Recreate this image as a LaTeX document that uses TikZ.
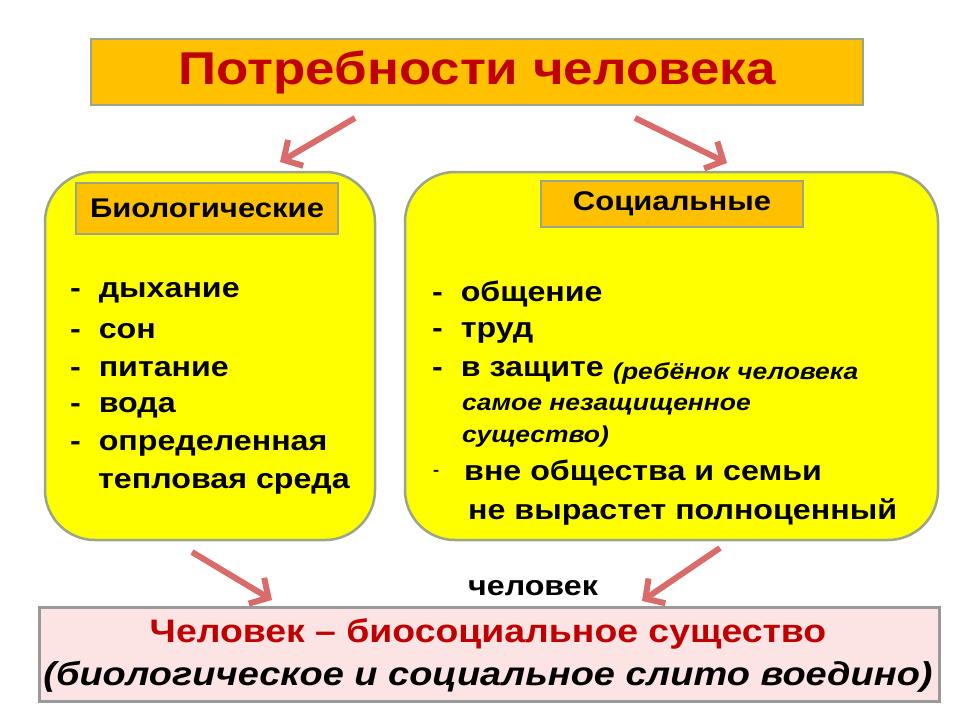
\documentclass[tikz,border=0pt]{standalone}
\usepackage{fontspec}
\setmainfont[FakeStretch=1.15]{Liberation Sans}
\usetikzlibrary{arrows.meta}
\definecolor{orng}{HTML}{FFC000}
\definecolor{yel}{HTML}{FFFF00}
\definecolor{bord}{HTML}{9AA58A}
\definecolor{arr}{HTML}{D96B6B}
\definecolor{dred}{HTML}{C00000}
\definecolor{pnk}{HTML}{FCE4E4}
\tikzset{
 arw/.style={draw=arr,line width=6pt,-{Straight Barb[length=14pt,width=30pt,line width=6pt]}},
 lbl/.style={draw=bord,line width=2pt,fill=orng,font=\bfseries\fontsize{27}{30}\selectfont},
 big/.style={draw=bord,line width=2.5pt,fill=yel,rounded corners=50pt},
 li/.style={anchor=west,font=\bfseries\fontsize{28}{32}\selectfont,inner sep=0pt},
 lis/.style={anchor=west,font=\bfseries\itshape\fontsize{23}{27}\selectfont,inner sep=0pt}
}
\begin{document}
\begin{tikzpicture}[x=1pt,y=-1pt]
\useasboundingbox (0,0) rectangle (960,720);
\node[draw=bord,line width=2pt,fill=orng,minimum width=772pt,minimum height=66pt,anchor=north west,text=dred,font=\bfseries\fontsize{46}{50}\selectfont] (t) at (90,38) {Потребности человека};
\draw[big] (45,172) rectangle (375,540);
\draw[big] (405,172) rectangle (938,540);
\node[lbl,minimum width=262pt,minimum height=51pt,anchor=north west] (bl) at (75,182) {Биологические};
\node[lbl,minimum width=262pt,minimum height=46pt,anchor=north west] (sl) at (540,180) {Социальные};
\node[li] (a1) at (70,293) {-\ \ дыхание};
\node[li] (a2) at (70,331) {-\ \ сон};
\node[li] (a3) at (70,369) {-\ \ питание};
\node[li] (a4) at (70,408) {-\ \ вода};
\node[li] (a5) at (70,446) {-\ \ определенная};
\node[li] (a6) at (98,484) {тепловая среда};
\node[li] (b1) at (432,294) {-\ \ общение};
\node[li] (b2) at (432,333) {-\ \ труд};
\node[li] (b3) at (432,372) {-\ \ в защите};
\node[lis] (b3a) at (613,373) {(ребёнок человека};
\node[lis] (b4) at (462,407) {самое незащищенное};
\node[lis] (b5) at (462,437) {существо)};
\node[anchor=west,font=\bfseries\fontsize{16}{18}\selectfont,inner sep=0pt] (d) at (433,473) {-};
\node[li] (b6) at (464,473) {вне общества и семьи};
\node[li] (b7) at (468,512) {не вырастет полноценный};
\node[font=\bfseries\fontsize{28}{30}\selectfont] (ch) at (533,588) {человек};
\node[draw=gray!80,line width=3pt,fill=pnk,minimum width=900pt,minimum height=94pt,anchor=north west] (bot) at (38,606) {};
\node[text=dred,font=\bfseries\fontsize{32.5}{36}\selectfont] (c1) at (488,634) {Человек – биосоциальное существо};
\node[font=\bfseries\itshape\fontsize{33}{36}\selectfont] (c2) at (488,677) {(биологическое и социальное слито воедино)};
\coordinate (s1) at (355,118); \coordinate (e1) at (280,162);
\coordinate (s2) at (635,118); \coordinate (e2) at (727,163);
\coordinate (s3) at (192,552); \coordinate (e3) at (272,600);
\coordinate (s4) at (720,548); \coordinate (e4) at (642,601);
\draw[arw] (s1) -- (e1);
\draw[arw] (s2) -- (e2);
\draw[arw] (s3) -- (e3);
\draw[arw] (s4) -- (e4);
\end{tikzpicture}
\end{document}
